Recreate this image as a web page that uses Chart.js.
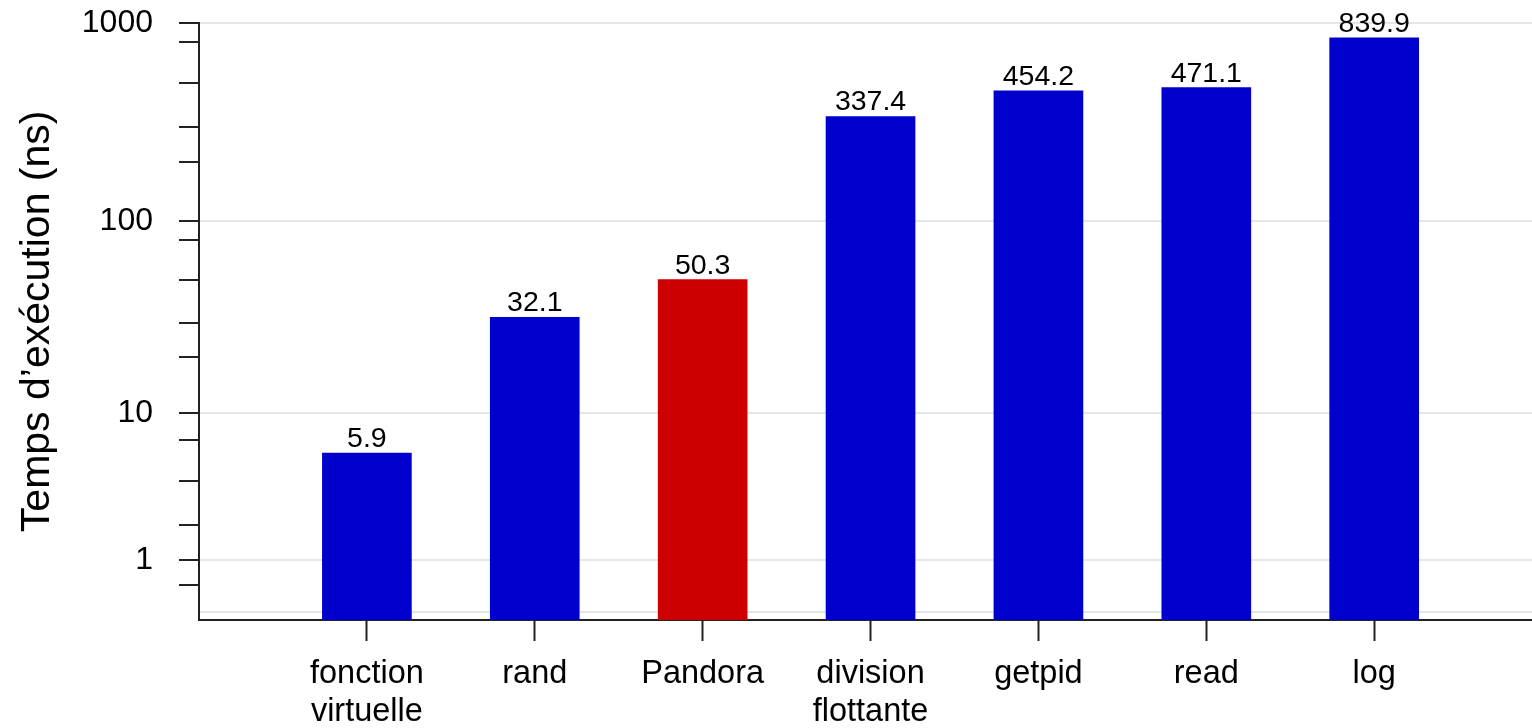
<!DOCTYPE html>
<html>
<head>
<meta charset="utf-8">
<script src="https://cdn.jsdelivr.net/npm/chart.js@4/dist/chart.umd.min.js"></script>
<style>
  html, body { margin: 0; padding: 0; background: #ffffff; }
  #wrap { width: 1532px; height: 728px; position: relative; }
</style>
</head>
<body>
<div id="wrap"><canvas id="c" width="1532" height="728"></canvas></div>
<script>
// ---- data ----
const CATEGORIES = [['fonction', 'virtuelle'], 'rand', 'Pandora', ['division', 'flottante'], 'getpid', 'read', 'log'];
const TIMES_NS = [5.9, 32.1, 50.3, 337.4, 454.2, 471.1, 839.9];
const BAR_COLORS = ['#0000CC', '#0000CC', '#CC0000', '#0000CC', '#0000CC', '#0000CC', '#0000CC'];
const Y_MAJOR_TICKS = [1, 10, 100, 1000];
const Y_MINOR_TICKS = [0.5, 2, 4, 7, 20, 30, 50, 80, 200, 300, 500, 800];
const Y_GRID_ONLY = [0.1];
const Y_MIN = 0, Y_MAX = 1000;
const X_MIN = -1, X_MAX = 6.94;
const Y_TITLE = 'Temps d\u2019exécution (ns)';

const FONT = '"Liberation Sans", Arial, Helvetica, sans-serif';

// ---- log(1 + x) scale ----
const BaseLinear = Chart.LinearScale || Chart.registry.getScale('linear');
class Log1pScale extends BaseLinear {
  determineDataLimits() {
    this.min = this.options.min;
    this.max = this.options.max;
  }
  buildTicks() {
    return [...Y_GRID_ONLY, ...Y_MINOR_TICKS, ...Y_MAJOR_TICKS]
      .sort((a, b) => a - b)
      .map(v => ({ value: v }));
  }
  configure() {
    super.configure();
    const s = Math.log10(this.min + 1);
    const e = Math.log10(this.max + 1);
    this._startValue = s;
    this._endValue = e;
    this._valueRange = e - s;
  }
  getPixelForValue(value) {
    if (value === null || value === undefined || isNaN(value)) return NaN;
    return this.getPixelForDecimal((Math.log10(value + 1) - this._startValue) / this._valueRange);
  }
  getValueForPixel(pixel) {
    return Math.pow(10, this._startValue + this.getDecimalForPixel(pixel) * this._valueRange) - 1;
  }
}
Log1pScale.id = 'log1p';
Log1pScale.defaults = {};
Chart.register(Log1pScale);

// ---- value labels above bars ----
const valueLabels = {
  id: 'valueLabels',
  afterDatasetsDraw(chart) {
    const ctx = chart.ctx;
    const meta = chart.getDatasetMeta(0);
    ctx.save();
    ctx.font = '28.5px ' + FONT;
    ctx.fillStyle = '#000000';
    ctx.textAlign = 'center';
    ctx.textBaseline = 'alphabetic';
    meta.data.forEach((bar, i) => {
      ctx.fillText(TIMES_NS[i].toFixed(1), bar.x, bar.y - 6);
    });
    ctx.restore();
  }
};

const points = CATEGORIES.map((c, i) => ({ x: i, y: TIMES_NS[i] }));

new Chart(document.getElementById('c'), {
  type: 'bar',
  data: {
    datasets: [{
      data: points,
      backgroundColor: BAR_COLORS,
      borderWidth: 0,
      barThickness: 89
    }]
  },
  options: {
    responsive: false,
    animation: false,
    events: [],
    layout: { padding: { top: 22.7, right: 0, left: 0, bottom: 0 } },
    plugins: {
      legend: { display: false },
      tooltip: { enabled: false },
      title: { display: false }
    },
    scales: {
      x: {
        type: 'linear',
        min: X_MIN,
        max: X_MAX,
        offset: false,
        z: 1,
        afterBuildTicks: (scale) => {
          scale.ticks = CATEGORIES.map((c, i) => ({ value: i }));
        },
        afterFit: (scale) => {
          scale.height = 108;
          scale.paddingLeft = 0;
          scale.paddingRight = 0;
        },
        ticks: {
          autoSkip: false,
          maxRotation: 0,
          minRotation: 0,
          padding: 15,
          color: '#000000',
          font: { family: FONT, size: 32.5, lineHeight: 1.14 },
          callback: (value) => CATEGORIES[value]
        },
        grid: {
          offset: false,
          drawOnChartArea: false,
          drawTicks: true,
          tickLength: 21,
          tickWidth: 2,
          tickColor: '#222222'
        },
        border: { display: true, color: '#222222', width: 2 }
      },
      y: {
        type: 'log1p',
        min: Y_MIN,
        max: Y_MAX,
        afterFit: (scale) => {
          scale.width = 199;
          scale.paddingTop = 0;
          scale.paddingBottom = 0;
        },
        ticks: {
          autoSkip: false,
          padding: 26,
          color: '#000000',
          font: { family: FONT, size: 32 },
          callback: (value) => Y_MAJOR_TICKS.includes(value) ? String(value) : ''
        },
        grid: {
          drawOnChartArea: true,
          drawTicks: true,
          tickLength: 20,
          lineWidth: 2,
          tickWidth: 2,
          color: (ctx) => (ctx.tick && (Y_MAJOR_TICKS.includes(ctx.tick.value) || Y_GRID_ONLY.includes(ctx.tick.value))) ? '#e6e6e6' : 'rgba(0,0,0,0)',
          tickColor: (ctx) => (ctx.tick && Y_GRID_ONLY.includes(ctx.tick.value)) ? 'rgba(0,0,0,0)' : '#222222'
        },
        border: { display: true, color: '#222222', width: 2 },
        title: {
          display: true,
          text: Y_TITLE,
          color: '#000000',
          font: { family: FONT, size: 41 },
          padding: { top: 12.6, bottom: 0 }
        }
      }
    }
  },
  plugins: [valueLabels]
});
</script>
</body>
</html>
